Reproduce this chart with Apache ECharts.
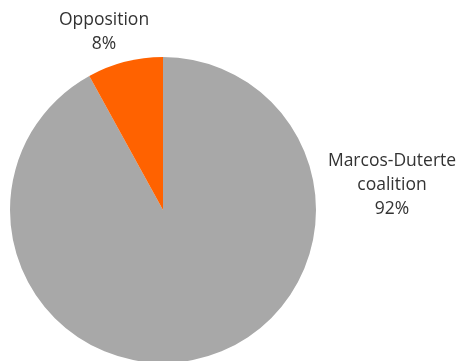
<!DOCTYPE html>
<html>
<head>
<meta charset="utf-8">
<script src="https://cdn.jsdelivr.net/npm/echarts@6/dist/echarts.min.js"></script>
<style>
  html, body { margin: 0; padding: 0; background: #fff; }
  #chart { width: 460px; height: 361px; }
</style>
</head>
<body>
<div id="chart"></div>
<script>
const categories = ["Marcos-Duterte\ncoalition", "Opposition"];
const shares = [92, 8];
const colors = ["#a8a8a8", "#ff6200"];

// where each label sits (label centre)
const labelSpots = [
  { x: 392, y: 185 },
  { x: 104, y: 32 }
];

const chart = echarts.init(document.getElementById("chart"));

chart.setOption({
  animation: false,
  series: [
    {
      type: "pie",
      center: [163, 210],
      radius: [0, 153],
      startAngle: 90,
      clockwise: true,
      silent: true,
      data: categories.map((name, i) => ({
        name: name,
        value: shares[i],
        itemStyle: { color: colors[i] }
      })),
      label: {
        show: true,
        position: "outside",
        formatter: p => p.name + "\n" + p.value + "%",
        color: "#333333",
        fontFamily: "Open Sans",
        fontSize: 17.5,
        lineHeight: 24,
        align: "center",
        overflow: "none",
        width: 200
      },
      labelLine: { show: false },
      labelLayout: params => ({
        x: labelSpots[params.dataIndex].x,
        y: labelSpots[params.dataIndex].y,
        align: "center",
        verticalAlign: "middle"
      })
    }
  ]
});
</script>
</body>
</html>
